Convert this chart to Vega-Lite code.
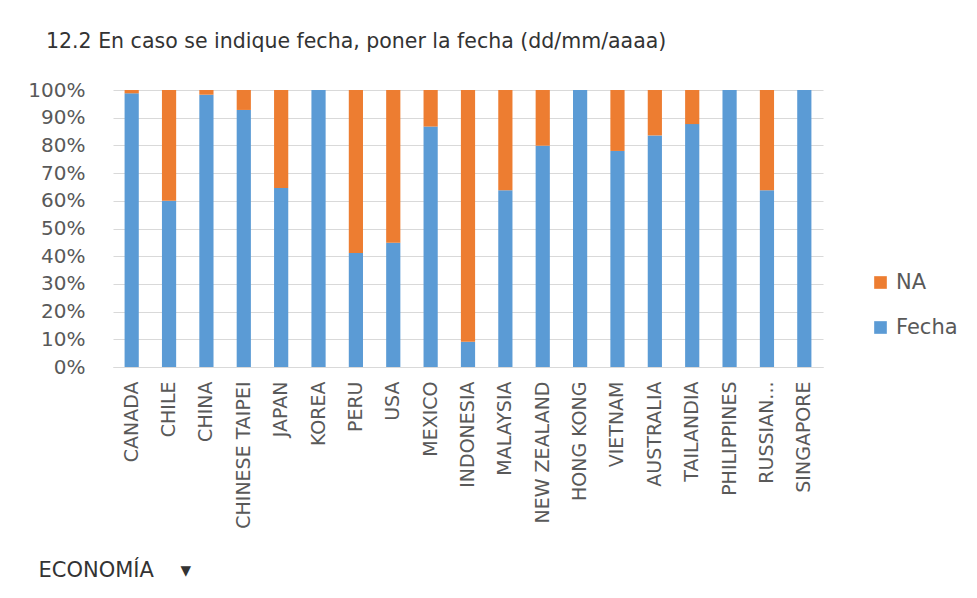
{
  "$schema": "https://vega.github.io/schema/vega-lite/v6.json",
  "autosize": "none",
  "width": 710,
  "height": 277,
  "padding": {"left": 113, "top": 90, "right": 154, "bottom": 231},
  "background": "white",
  "title": {
    "text": "12.2 En caso se indique fecha, poner la fecha (dd/mm/aaaa)",
    "anchor": "start",
    "frame": "group",
    "dx": -67,
    "offset": 28,
    "font": "DejaVu Sans",
    "fontSize": 20.5,
    "fontWeight": "normal",
    "color": "#333333"
  },
  "data": {
    "values": [
      {"economia": "CANADA", "serie": "Fecha", "valor": 0.988},
      {"economia": "CANADA", "serie": "NA", "valor": 0.012},
      {"economia": "CHILE", "serie": "Fecha", "valor": 0.600},
      {"economia": "CHILE", "serie": "NA", "valor": 0.400},
      {"economia": "CHINA", "serie": "Fecha", "valor": 0.983},
      {"economia": "CHINA", "serie": "NA", "valor": 0.017},
      {"economia": "CHINESE TAIPEI", "serie": "Fecha", "valor": 0.928},
      {"economia": "CHINESE TAIPEI", "serie": "NA", "valor": 0.072},
      {"economia": "JAPAN", "serie": "Fecha", "valor": 0.646},
      {"economia": "JAPAN", "serie": "NA", "valor": 0.354},
      {"economia": "KOREA", "serie": "Fecha", "valor": 1.0},
      {"economia": "KOREA", "serie": "NA", "valor": 0.0},
      {"economia": "PERU", "serie": "Fecha", "valor": 0.412},
      {"economia": "PERU", "serie": "NA", "valor": 0.588},
      {"economia": "USA", "serie": "Fecha", "valor": 0.449},
      {"economia": "USA", "serie": "NA", "valor": 0.551},
      {"economia": "MEXICO", "serie": "Fecha", "valor": 0.868},
      {"economia": "MEXICO", "serie": "NA", "valor": 0.132},
      {"economia": "INDONESIA", "serie": "Fecha", "valor": 0.091},
      {"economia": "INDONESIA", "serie": "NA", "valor": 0.909},
      {"economia": "MALAYSIA", "serie": "Fecha", "valor": 0.638},
      {"economia": "MALAYSIA", "serie": "NA", "valor": 0.362},
      {"economia": "NEW ZEALAND", "serie": "Fecha", "valor": 0.799},
      {"economia": "NEW ZEALAND", "serie": "NA", "valor": 0.201},
      {"economia": "HONG KONG", "serie": "Fecha", "valor": 1.0},
      {"economia": "HONG KONG", "serie": "NA", "valor": 0.0},
      {"economia": "VIETNAM", "serie": "Fecha", "valor": 0.780},
      {"economia": "VIETNAM", "serie": "NA", "valor": 0.220},
      {"economia": "AUSTRALIA", "serie": "Fecha", "valor": 0.836},
      {"economia": "AUSTRALIA", "serie": "NA", "valor": 0.164},
      {"economia": "TAILANDIA", "serie": "Fecha", "valor": 0.877},
      {"economia": "TAILANDIA", "serie": "NA", "valor": 0.123},
      {"economia": "PHILIPPINES", "serie": "Fecha", "valor": 1.0},
      {"economia": "PHILIPPINES", "serie": "NA", "valor": 0.0},
      {"economia": "RUSSIAN...", "serie": "Fecha", "valor": 0.638},
      {"economia": "RUSSIAN...", "serie": "NA", "valor": 0.362},
      {"economia": "SINGAPORE", "serie": "Fecha", "valor": 1.0},
      {"economia": "SINGAPORE", "serie": "NA", "valor": 0.0}
    ]
  },
  "mark": {"type": "bar"},
  "encoding": {
    "x": {
      "field": "economia",
      "type": "nominal",
      "sort": null,
      "scale": {"paddingInner": 0.62, "paddingOuter": 0.31},
      "axis": {
        "title": "ECONOMÍA\u00a0\u00a0\u00a0\u00a0▾",
        "titleFont": "DejaVu Sans",
        "titleFontSize": 21,
        "titleFontWeight": "normal",
        "titleColor": "#333333",
        "titleAnchor": "start",
        "titleAlign": "left",
        "titleBaseline": "middle",
        "titleX": -75,
        "titleY": 203,
        "labelAngle": -90,
        "labelFont": "DejaVu Sans",
        "labelFontSize": 19,
        "labelColor": "#595959",
        "labelPadding": 14,
        "labelLimit": 300,
        "ticks": false,
        "domainColor": "#D9D9D9",
        "grid": false
      }
    },
    "y": {
      "field": "valor",
      "type": "quantitative",
      "stack": "zero",
      "scale": {"domain": [0, 1]},
      "axis": {
        "title": null,
        "values": [0, 0.1, 0.2, 0.3, 0.4, 0.5, 0.6, 0.7, 0.8, 0.9, 1],
        "format": ".0%",
        "labelFont": "DejaVu Sans",
        "labelFontSize": 20,
        "labelColor": "#595959",
        "labelPadding": 28,
        "ticks": false,
        "domain": false,
        "gridColor": "#D9D9D9",
        "gridWidth": 1
      }
    },
    "color": {
      "field": "serie",
      "type": "nominal",
      "scale": {"domain": ["NA", "Fecha"], "range": ["#ED7D31", "#5B9BD5"]},
      "legend": {
        "title": null,
        "orient": "none",
        "legendX": 757,
        "legendY": 182,
        "symbolType": "square",
        "symbolSize": 160,
        "symbolStrokeWidth": 0,
        "labelFont": "DejaVu Sans",
        "labelFontSize": 21,
        "labelColor": "#595959",
        "labelOffset": 5,
        "rowPadding": 23
      }
    },
    "order": {"field": "serie", "sort": "ascending"}
  },
  "config": {
    "view": {"stroke": null}
  }
}
